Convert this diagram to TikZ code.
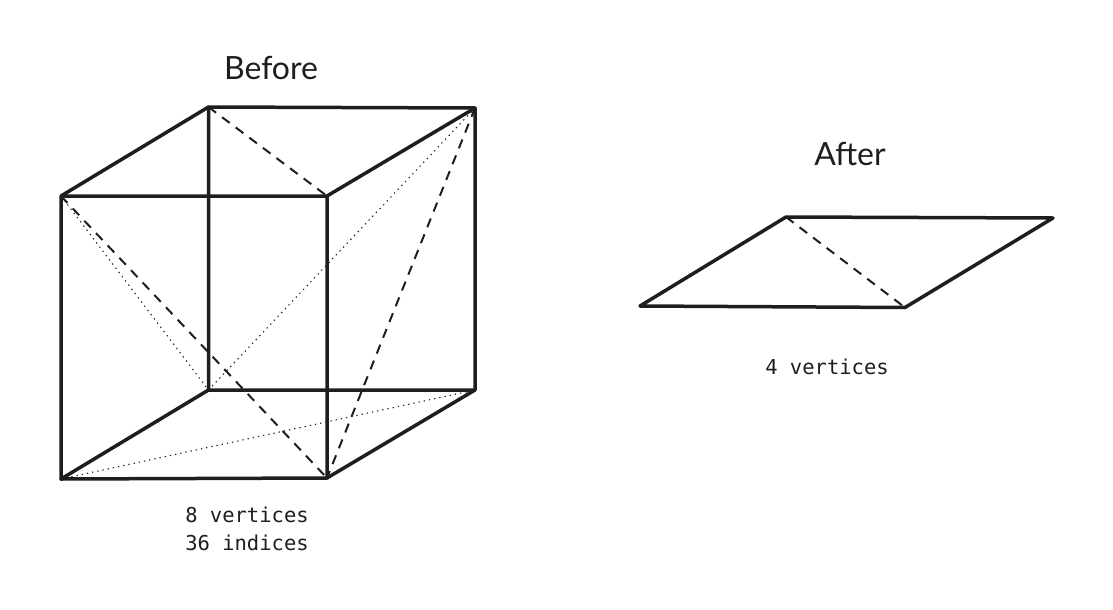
\documentclass[tikz,border=0pt]{standalone}
\usepackage{fontspec}
\newfontfamily\handfont{Lato}
\newfontfamily\codefont{DejaVu Sans Mono}
\definecolor{ink}{HTML}{1E1E1E}
\tikzset{
  edge/.style={draw=ink,line width=3.5pt,line cap=round,line join=round},
  dashline/.style={draw=ink,line width=2pt,dash pattern=on 9.5pt off 7.5pt},
  dotline/.style={draw=ink,line width=1.1pt,dash pattern=on 1.3pt off 4pt},
  title/.style={text=ink,font=\handfont\fontsize{32}{36}\selectfont,inner sep=0pt,anchor=center},
  caption/.style={text=ink,font=\codefont\fontsize{20.5}{27.5}\selectfont,inner sep=0pt,anchor=center,align=center}
}
\begin{document}
\begin{tikzpicture}[x=1pt,y=-1pt]
\useasboundingbox (0,0) rectangle (1113,610);
% cube
\coordinate (ftl) at (61,196);
\coordinate (ftr) at (327,196);
\coordinate (fbl) at (61,479);
\coordinate (fbr) at (327,478);
\coordinate (btl) at (208.5,107);
\coordinate (btr) at (475,108);
\coordinate (bbl) at (208.5,390);
\coordinate (bbr) at (475,390);
\path[dashline] (btl) -- (ftr);
\path[dashline] (ftl) -- (fbr);
\path[dashline] (btr) -- (fbr);
\path[dotline] (ftl) -- (bbl);
\path[dotline] (bbl) -- (btr);
\path[dotline] (fbl) -- (bbr);
\path[edge] (ftl) -- (ftr) -- (fbr) -- (fbl) -- cycle;
\path[edge] (btl) -- (btr) -- (bbr) -- (bbl) -- cycle;
\path[edge] (ftl) -- (btl);
\path[edge] (ftr) -- (btr);
\path[edge] (fbl) -- (bbl);
\path[edge] (fbr) -- (bbr);
% quad
\coordinate (qa) at (640,306);
\coordinate (qb) at (786,217);
\coordinate (qc) at (1053,218);
\coordinate (qd) at (905,307.5);
\path[dashline] (qb) -- (qd);
\path[edge] (qa) -- (qb) -- (qc) -- (qd) -- cycle;
% labels
\node[title] (before) at (271,68) {Before};
\node[title] (after) at (850,154) {After};
\node[caption] (cubecap) at (247,529) {8 vertices\\36 indices};
\node[caption] (quadcap) at (827,367) {4 vertices};
\end{tikzpicture}
\end{document}
